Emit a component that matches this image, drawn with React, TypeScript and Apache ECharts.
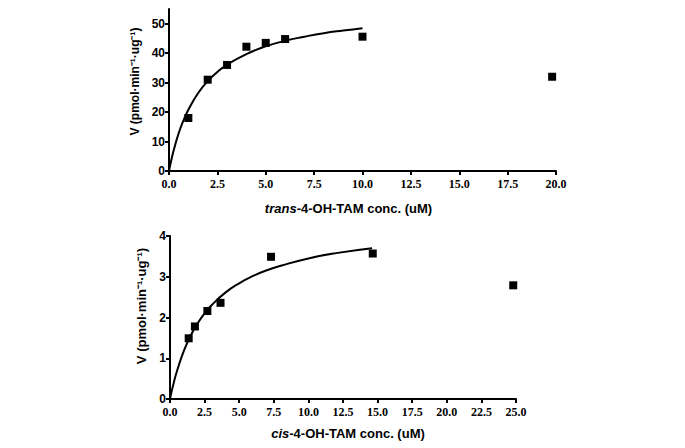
import React, { useEffect, useRef } from "react";
import * as echarts from "echarts";

// Top panel: trans-4-OH-TAM
const transConc = [1, 2, 3, 4, 5, 6, 10, 19.8];
const transV = [18, 31, 36, 42.2, 43.5, 44.8, 45.6, 32];
const transFitX = [0, 0.1, 0.25, 0.5, 0.75, 1, 1.5, 2, 2.5, 3, 4, 5, 6, 7, 8, 9, 10];
const transFitV = [0, 3.1, 7.2, 12.8, 17.2, 20.8, 26.4, 30.5, 33.6, 36.1, 39.7, 42.3, 44.2, 45.6, 46.8, 47.7, 48.5];
const transYTicks = [0, 10, 20, 30, 40, 50];

// Bottom panel: cis-4-OH-TAM
const cisConc = [1.35, 1.8, 2.7, 3.65, 7.3, 14.65, 24.8];
const cisV = [1.49, 1.78, 2.16, 2.36, 3.49, 3.57, 2.79];
const cisFitX = [0, 0.1, 0.25, 0.5, 1, 1.5, 2, 2.5, 3, 4, 5, 6, 7, 8, 10, 12, 14.6];
const cisFitV = [0, 0.16, 0.37, 0.68, 1.18, 1.56, 1.86, 2.1, 2.3, 2.61, 2.84, 3.02, 3.16, 3.27, 3.45, 3.58, 3.7];
const cisYTicks = [0, 1, 2, 3, 4];

const yName = "V (pmol·min⁻¹·ug⁻¹)";

export default function App() {
  const ref = useRef<HTMLDivElement>(null);
  useEffect(() => {
    if (!ref.current) return;
    const chart = echarts.init(ref.current, null, { renderer: "svg" });
    const sans = "'Liberation Sans', Arial, sans-serif";
    const serif = "'Liberation Serif', 'Times New Roman', serif";
    const axisLine = { show: true, onZero: false, lineStyle: { color: "#000", width: 2 } };
    const axisTick = { show: true, inside: false, length: 4, lineStyle: { color: "#000", width: 2 } };
    const xLabel = {
      color: "#000",
      fontFamily: serif,
      fontWeight: "bold" as const,
      fontSize: 12,
      margin: 7,
      formatter: (v: number) => v.toFixed(1),
    };
    const yLabel = {
      color: "#000",
      fontFamily: sans,
      fontWeight: "bold" as const,
      fontSize: 12,
      margin: 4,
    };
    const nameStyle = (padding: number[], size: number) => ({
      color: "#000",
      fontFamily: sans,
      fontWeight: "bold" as const,
      fontSize: size,
      padding,
      rich: {
        i: { fontStyle: "italic" as const, fontWeight: "bold" as const, fontFamily: sans, fontSize: size, color: "#000" },
      },
    });
    chart.setOption({
      animation: false,
      backgroundColor: "#fff",
      grid: [
        { left: 169, top: 9, width: 387, height: 162 },
        { left: 170, top: 236, width: 346, height: 163 },
      ],
      xAxis: [
        {
          gridIndex: 0,
          type: "value",
          min: 0,
          max: 20,
          interval: 2.5,
          splitLine: { show: false },
          axisLine,
          axisTick,
          axisLabel: xLabel,
          name: "{i|trans}-4-OH-TAM conc. (uM)",
          nameLocation: "middle",
          nameGap: 31,
          nameTextStyle: nameStyle([0, 28, 0, 0], 13),
        },
        {
          gridIndex: 1,
          type: "value",
          min: 0,
          max: 25,
          interval: 2.5,
          splitLine: { show: false },
          axisLine,
          axisTick,
          axisLabel: xLabel,
          name: "{i|cis}-4-OH-TAM conc. (uM)",
          nameLocation: "middle",
          nameGap: 28,
          nameTextStyle: nameStyle([0, 0, 0, 10], 13),
        },
      ],
      yAxis: [
        {
          gridIndex: 0,
          type: "value",
          min: 0,
          max: 55,
          interval: 10,
          splitLine: { show: false },
          axisLine,
          axisTick: { ...axisTick, customValues: transYTicks },
          axisLabel: { ...yLabel, customValues: transYTicks },
          name: yName,
          nameLocation: "middle",
          nameGap: 26,
          nameTextStyle: nameStyle([0, 0, 0, 17], 12),
        },
        {
          gridIndex: 1,
          type: "value",
          min: 0,
          max: 4,
          interval: 1,
          splitLine: { show: false },
          axisLine,
          axisTick: { ...axisTick, customValues: cisYTicks },
          axisLabel: { ...yLabel, customValues: cisYTicks },
          name: yName,
          nameLocation: "middle",
          nameGap: 18,
          nameTextStyle: nameStyle([0, 0, 0, 23], 13),
        },
      ],
      series: [
        {
          type: "line",
          xAxisIndex: 0,
          yAxisIndex: 0,
          data: transFitX.map((x, i) => [x, transFitV[i]]),
          showSymbol: false,
          smooth: true,
          lineStyle: { color: "#000", width: 2 },
          z: 2,
        },
        {
          type: "scatter",
          xAxisIndex: 0,
          yAxisIndex: 0,
          data: transConc.map((x, i) => [x, transV[i]]),
          symbol: "rect",
          symbolSize: 8,
          itemStyle: { color: "#000", opacity: 1 },
          z: 3,
        },
        {
          type: "line",
          xAxisIndex: 1,
          yAxisIndex: 1,
          data: cisFitX.map((x, i) => [x, cisFitV[i]]),
          showSymbol: false,
          smooth: true,
          lineStyle: { color: "#000", width: 2 },
          z: 2,
        },
        {
          type: "scatter",
          xAxisIndex: 1,
          yAxisIndex: 1,
          data: cisConc.map((x, i) => [x, cisV[i]]),
          symbol: "rect",
          symbolSize: 8,
          itemStyle: { color: "#000", opacity: 1 },
          z: 3,
        },
      ],
    });
    return () => chart.dispose();
  }, []);
  return (
    <div
      ref={ref}
      style={{ position: "fixed", left: 0, top: 0, width: 685, height: 448, background: "#fff" }}
    />
  );
}
